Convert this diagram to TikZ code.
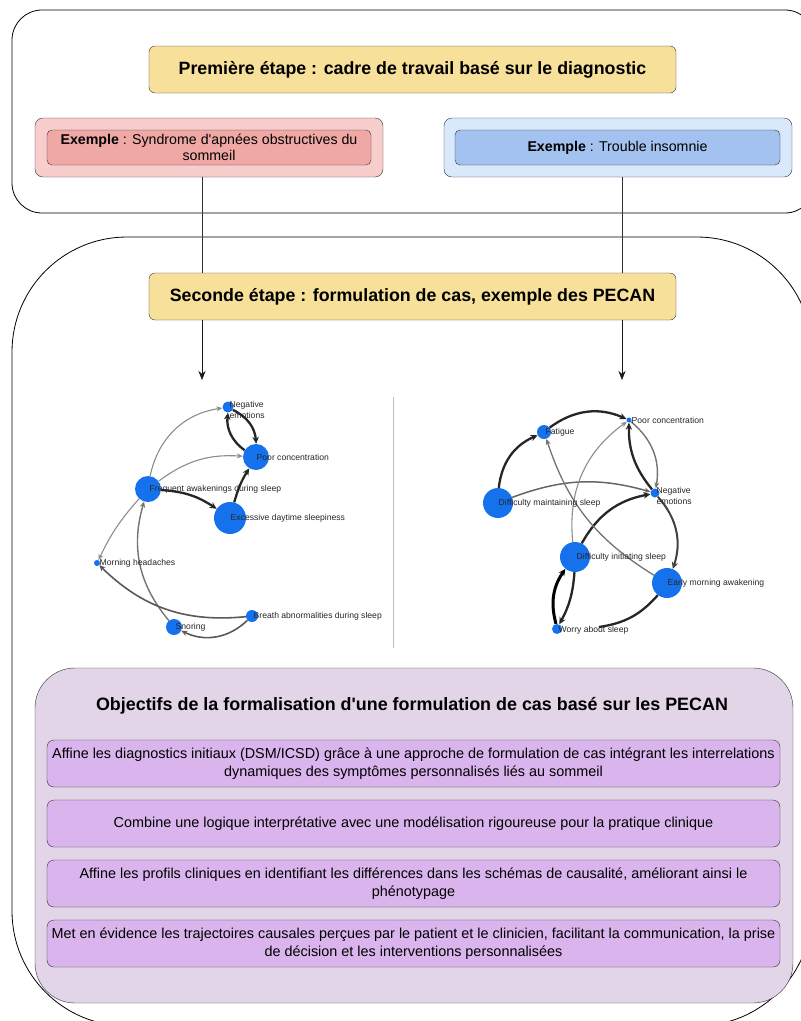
\documentclass[tikz,border=0pt]{standalone}
\usepackage{fontspec}
\setmainfont{Liberation Sans}[Ligatures=TeXOff]
\usetikzlibrary{positioning}
\usetikzlibrary{arrows.meta}

\definecolor{stepyellow}{RGB}{247,224,154}
\definecolor{apneaout}{RGB}{248,206,204}
\definecolor{apneain}{RGB}{240,168,165}
\definecolor{insomout}{RGB}{218,232,252}
\definecolor{insomin}{RGB}{164,194,240}
\definecolor{goalout}{RGB}{225,213,231}
\definecolor{goalin}{RGB}{218,180,236}
\definecolor{netblue}{RGB}{22,114,236}

\begin{document}
\begin{tikzpicture}[x=1pt, y=-1pt, >={Stealth[length=9pt,width=7pt]},
    stage/.style={draw=black!80, fill=stepyellow, rounded corners=6pt, minimum width=527pt, minimum height=47pt, font=\fontsize{17.8}{20}\selectfont\bfseries},
    exout/.style={draw=black!80, rounded corners=8pt, minimum width=348pt, minimum height=59pt},
    exin/.style={draw=black!80, rounded corners=5pt, minimum height=35pt, align=center, inner sep=1pt, font=\fontsize{14.2}{16}\selectfont},
    goal/.style={draw=black!80, fill=goalin, rounded corners=7pt, minimum width=733pt, minimum height=47pt, inner xsep=2pt, align=center, font=\fontsize{14.4}{18.5}\selectfont},
    sym/.style={circle, fill=netblue, inner sep=0pt, minimum size=#1},
    lab/.style={anchor=west, inner sep=0.5pt, text=black!85, font=\fontsize{8.6}{11}\selectfont, align=left},
    strong/.style={-{Stealth[length=7pt,width=6.5pt]}, line width=2.3pt, black!85},
    medium/.style={-{Stealth[length=6pt,width=5.5pt]}, line width=1.6pt, black!65},
    weak/.style={-{Stealth[length=6pt,width=5pt]}, line width=1.1pt, black!45}]

\useasboundingbox (0,0) rectangle (801,1021);
\clip (0,0) rectangle (801,1021);

% frames
\draw[line width=0.8pt] [rounded corners=30pt] (12,10) rectangle (815,213);
\draw[line width=0.8pt] [rounded corners=115pt] (12,237) rectangle (812,1026);

% first step
\node[stage] (step1) at (412.5,69.5) {Première étape : cadre de travail basé sur le diagnostic};
\node[exout, fill=apneaout] (apneeOut) at (209,147.5) {};
\node[exin, fill=apneain, minimum width=324pt] (apnee) at (209,147.5) {\textbf{Exemple} : Syndrome d'apnées obstructives du\\sommeil};
\node[exout, fill=insomout] (insomOut) at (618,147.5) {};
\node[exin, fill=insomin, minimum width=325pt] (insom) at (617.5,147.5) {\textbf{Exemple} : Trouble insomnie};

% second step
\node[stage] (step2) at (412.5,296.5) {Seconde étape : formulation de cas, exemple des PECAN};
\coordinate (netL) at (202,380);
\coordinate (netR) at (622,380);
\draw[black!80] (netL |- apneeOut.south) -- (netL |- step2.north);
\draw[black!80] (netR |- insomOut.south) -- (netR |- step2.north);
\draw[->, black!90] (netL |- step2.south) -- (netL);
\draw[->, black!90] (netR |- step2.south) -- (netR);

\draw[black!25] (393,397) -- (393,648);

% network: apnea
\node[sym=11pt] (ne) at (228,407) {};
\node[sym=26pt] (pc) at (256,457) {};
\node[sym=26pt] (fa) at (148,489) {};
\node[sym=32pt] (ed) at (230,518) {};
\node[sym=6pt] (mh) at (97,563) {};
\node[sym=12pt] (ba) at (252,616) {};
\node[sym=16pt] (sn) at (174,627) {};

\draw[weak] (fa) to[bend left=35] (ne);
\draw[weak] (fa) to[bend left=20] (pc);
\draw[weak] (fa) to[bend right=8] (mh);
\draw[strong] (fa) to[bend left=15] (ed);
\draw[strong] (ed) to[bend left=8] (pc);
\draw[strong] (pc) to[bend left=30] (ne);
\draw[strong] (ne) to[bend left=30] (pc);
\draw[medium, black!55, line width=1.4pt] (sn) to[bend left=28] (fa);
\draw[medium] (ba) to[bend left=25] (mh);
\draw[medium] (ba) to[bend left=35] (sn);

\node[lab, anchor=north west] (nel) at (229,401) {Negative\\emotions};
\node[lab] (pcl) at (256,457) {Poor concentration};
\node[lab] (fal) at (149,489) {Frequent awakenings during sleep};
\node[lab] (edl) at (230,518) {Excessive daytime sleepiness};
\node[lab] (mhl) at (99,563) {Morning headaches};
\node[lab] (bal) at (253,616) {Breath abnormalities during sleep};
\node[lab] (snl) at (175,627) {Snoring};

% network: insomnia
\node[sym=5pt] (rpc) at (629,420) {};
\node[sym=14pt] (fg) at (544,432) {};
\node[sym=30pt] (dm) at (498,503) {};
\node[sym=9pt] (rne) at (655,493) {};
\node[sym=30pt] (di) at (575,557) {};
\node[sym=30pt] (ea) at (667,583) {};
\node[sym=10pt] (wo) at (557,629) {};
\coordinate (woend) at (599,627);

\draw[strong] (dm) to[bend left=30] (fg);
\draw[strong] (fg) to[bend left=30] (rpc);
\draw[weak, black!60, line width=1.5pt] (dm) to[bend left=18] (rne);
\draw[weak] (di) to[bend left=30] (rpc);
\draw[strong] (di) to[bend left=25] (rne);
\draw[weak, black!55, line width=1.4pt] (rpc) to[bend left=30] (rne);
\draw[strong] (rne) to[bend left=20] (rpc);
\draw[strong, black!75, line width=2pt] (rne) to[bend left=30] (ea);
\draw[weak, black!55, line width=1.3pt] (ea) to[bend left=20] (fg);
\draw[strong] (di) to[bend left=12] (wo);
\draw[strong, black, line width=3pt] (wo) to[bend left=25] (di);
\draw[line width=2.3pt, black!85] (ea) to[bend left=20] (woend);

\node[lab] (rpcl) at (631,420) {Poor concentration};
\node[lab] (fgl) at (545,432) {Fatigue};
\node[lab] (dml) at (498,503) {Difficulty maintaining sleep};
\node[lab, anchor=north west] (rnel) at (656,487) {Negative\\emotions};
\node[lab] (dil) at (576,557) {Difficulty initiating sleep};
\node[lab] (eal) at (667,583) {Early morning awakening};
\node[lab] (wol) at (558,630) {Worry about sleep};

% objectives
\draw[draw=black!80, fill=goalout, rounded corners=40pt] (35,668) rectangle (793,1003);
\node[font=\fontsize{17.9}{20}\selectfont\bfseries] (goals) at (412,706) {Objectifs de la formalisation d'une formulation de cas basé sur les PECAN};
\node[goal] (g1) at (413.5,763.5) {Affine les diagnostics initiaux (DSM/ICSD) grâce à une approche de formulation de cas intégrant les interrelations\\dynamiques des symptômes personnalisés liés au sommeil};
\node[goal] (g2) at (413.5,823.5) {Combine une logique interprétative avec une modélisation rigoureuse pour la pratique clinique};
\node[goal] (g3) at (413.5,883.5) {Affine les profils cliniques en identifiant les différences dans les schémas de causalité, améliorant ainsi le\\phénotypage};
\node[goal] (g4) at (413.5,943.5) {Met en évidence les trajectoires causales perçues par le patient et le clinicien, facilitant la communication, la prise\\de décision et les interventions personnalisées};
\end{tikzpicture}
\end{document}
